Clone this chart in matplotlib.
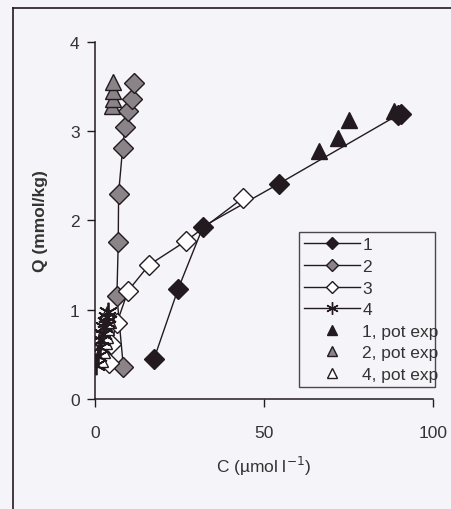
"""Sorption isotherms Q vs C, series 1-4 with pot experiments."""

import matplotlib
matplotlib.use('Agg')
import matplotlib.pyplot as plt
from matplotlib.lines import Line2D

plt.rcParams['font.family'] = ['Liberation Sans', 'DejaVu Sans']

# ----------------------------------------------------------------------------
# Data

s1_c = [17.5, 24.6, 32.0, 54.4, 89.6, 90.5]
s1_q = [0.45, 1.23, 1.93, 2.41, 3.18, 3.19]

s2_c = [8.4, 6.5, 6.9, 7.0, 8.2, 8.9, 9.8, 10.9, 11.5]
s2_q = [0.36, 1.15, 1.76, 2.30, 2.81, 3.05, 3.23, 3.36, 3.54]

s3_c = [4.2, 4.8, 6.5, 9.8, 16.0, 27.0, 43.8]
s3_q = [0.40, 0.62, 0.85, 1.21, 1.50, 1.77, 2.25]

s4_c = [0.3, 0.9, 1.4, 1.9, 2.4, 2.8, 3.2, 3.6, 4.0]
s4_q = [0.38, 0.48, 0.58, 0.66, 0.73, 0.80, 0.86, 0.92, 0.97]

pot1_c = [66.3, 71.9, 75.1, 88.5]
pot1_q = [2.78, 2.92, 3.12, 3.22]

pot2_c = [5.0, 5.2, 5.4, 5.3]
pot2_q = [3.28, 3.36, 3.45, 3.55]

pot4_c = [1.6, 2.1, 2.6, 3.0, 3.4, 3.8, 3.6]
pot4_q = [0.45, 0.55, 0.65, 0.72, 0.80, 0.88, 0.95]

legend_labels = ['1', '2', '3', '4', '1, pot exp', '2, pot exp', '4, pot exp']

# ----------------------------------------------------------------------------
# Figure

ink = '#231a20'
grey = '#8a8488'
txt_col = '#333333'
fig = plt.figure(figsize=(4.52, 5.10), dpi=100, facecolor='#f5f5f9')
ax = fig.add_axes([0.210, 0.216, 0.748, 0.700])
ax.set_facecolor('none')

ms = 10
ax.plot(s1_c, s1_q, color=ink, lw=1.0, marker='D', ms=ms, mfc=ink, mec=ink)
ax.plot(s2_c, s2_q, color=ink, lw=1.0, marker='D', ms=ms, mfc=grey, mec=ink)
ax.plot(s3_c, s3_q, color=ink, lw=1.0, marker='D', ms=ms,
        mfc='white', mec=ink)
ax.plot(pot1_c, pot1_q, ls='none', marker='^', ms=11, mfc=ink, mec=ink)
ax.plot(pot2_c, pot2_q, ls='none', marker='^', ms=11, mfc=grey, mec=ink)
ax.plot(pot4_c, pot4_q, ls='none', marker='^', ms=11, mfc='white', mec=ink)
ax.plot(s4_c, s4_q, color=ink, lw=1.2, marker=(6, 2, 0), ms=14,
        mec=ink, mew=1.3, zorder=5)

ax.set_xlim(0, 100)
ax.set_ylim(0, 4)
ax.set_xticks([0, 50, 100])
ax.set_yticks([0, 1, 2, 3, 4])
ax.tick_params(direction='out', length=6, width=1, colors=ink,
               labelsize=12.5, labelcolor=txt_col, pad=5)
ax.tick_params(axis='x', pad=13)
for side in ['top', 'right']:
    ax.spines[side].set_visible(False)
for side in ['left', 'bottom']:
    ax.spines[side].set_color(ink)
    ax.spines[side].set_linewidth(1.1)

ax.set_xlabel('C (µmol l$^{-1}$)', fontsize=12.5, color=txt_col, labelpad=10)
ax.set_ylabel('Q (mmol/kg)', fontsize=12.5, color=txt_col,
              fontweight='bold', labelpad=16)

# Legend ---------------------------------------------------------------------
proxies = [
    Line2D([], [], color=ink, lw=1, marker='D', ms=6, mfc=ink, mec=ink),
    Line2D([], [], color=ink, lw=1, marker='D', ms=6, mfc=grey, mec=ink),
    Line2D([], [], color=ink, lw=1, marker='D', ms=6, mfc='white', mec=ink),
    Line2D([], [], color=ink, lw=1, marker=(6, 2, 0), ms=9, mec=ink),
    Line2D([], [], ls='none', marker='^', ms=7, mfc=ink, mec=ink),
    Line2D([], [], ls='none', marker='^', ms=7, mfc=grey, mec=ink),
    Line2D([], [], ls='none', marker='^', ms=7, mfc='white', mec=ink),
]
leg = fig.legend(proxies, legend_labels, loc='lower left',
                 bbox_to_anchor=(0.661, 0.239, 0.301, 0.310), mode='expand',
                 fontsize=12.5, frameon=True, fancybox=False,
                 handlelength=3.2, handletextpad=0.15, borderaxespad=0,
                 labelspacing=0.37, borderpad=0.3)
leg.get_frame().set_edgecolor(ink)
leg.get_frame().set_linewidth(1.0)
leg.get_frame().set_facecolor('none')
for txt in leg.get_texts():
    txt.set_color(txt_col)

# Outer frame ---------------------------------------------------------------
fig.add_artist(Line2D([0.029, 1.0], [0.982, 0.982], color=ink, lw=1.2))
fig.add_artist(Line2D([0.029, 0.029], [0.0, 0.982], color=ink, lw=1.2))

fig.savefig('out.png', dpi=100, facecolor=fig.get_facecolor())
